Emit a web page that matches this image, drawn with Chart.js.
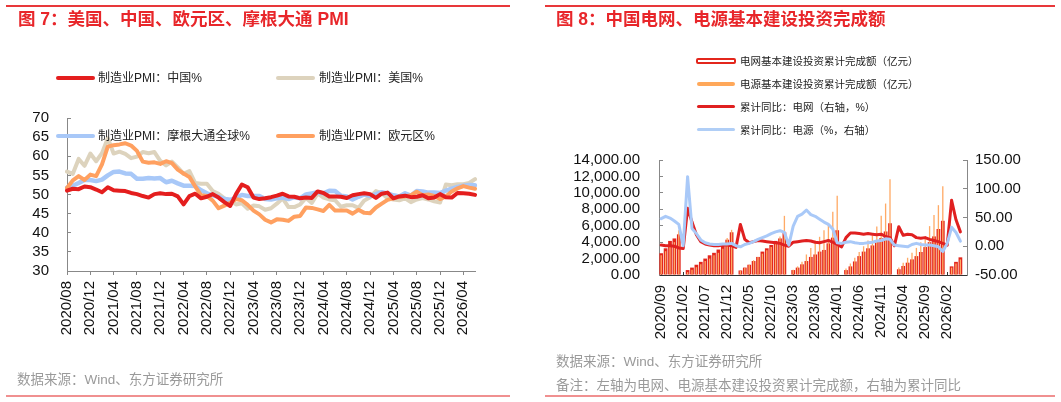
<!DOCTYPE html>
<html>
<head>
<meta charset="utf-8">
<script src="https://cdn.jsdelivr.net/npm/chart.js@4.4.1/dist/chart.umd.min.js"></script>
<style>
  body { margin: 0; background: #fff; font-family: "Liberation Sans", "Noto Sans CJK SC", sans-serif; }
  #wrap { position: relative; width: 1061px; height: 402px; overflow: hidden; }
  canvas { position: absolute; top: 0; }
  .t { position: absolute; white-space: nowrap; line-height: 1; }
  .title { color: #e8262a; font-size: 17.5px; font-weight: bold; }
  .src { color: #9a9a9a; font-size: 13.5px; }
  .lg { color: #222; font-size: 12px; }
  .lg2 { color: #222; font-size: 10.5px; }
  .rule { position: absolute; height: 1.5px; background: #e8383a; }
  .rule2 { position: absolute; height: 2px; background: #f09090; }
  .mk { position: absolute; border-radius: 2px; }
</style>
</head>
<body>
<div id="wrap">
  <canvas id="canvas" width="530" height="402" style="left:0"></canvas>
  <canvas id="canvas-bar" width="521" height="402" style="left:540px"></canvas>

  <div class="rule" style="left:6px;top:5px;width:504px"></div>
  <div class="rule" style="left:545px;top:5px;width:510px"></div>
  <div class="t title" style="left:18px;top:11px">图 7：美国、中国、欧元区、摩根大通 PMI</div>
  <div class="t title" style="left:556px;top:11px">图 8：中国电网、电源基本建设投资完成额</div>

  <div class="mk" style="left:56px;top:76px;width:39px;height:4px;background:#e41e1e"></div>
  <div class="t lg" style="left:98px;top:72px">制造业PMI：中国%</div>
  <div class="mk" style="left:276px;top:76px;width:39px;height:4px;background:#ddd3bd"></div>
  <div class="t lg" style="left:319px;top:72px">制造业PMI：美国%</div>
  <div class="mk" style="left:56px;top:134px;width:39px;height:4px;background:#a8c8f8"></div>
  <div class="t lg" style="left:98px;top:130px">制造业PMI：摩根大通全球%</div>
  <div class="mk" style="left:276px;top:134px;width:39px;height:4px;background:#ffa060"></div>
  <div class="t lg" style="left:319px;top:130px">制造业PMI：欧元区%</div>

  <div style="position:absolute;left:696px;top:58px;width:36px;height:2px;border:2px solid #e3261c;border-radius:2px;background:#fff"></div>
  <div class="t lg2" style="left:740px;top:56px">电网基本建设投资累计完成额（亿元）</div>
  <div class="mk" style="left:697px;top:82px;width:38px;height:4px;background:#ffa85a"></div>
  <div class="t lg2" style="left:740px;top:79px">电源基本建设投资累计完成额（亿元）</div>
  <div class="mk" style="left:697px;top:105px;width:38px;height:3px;background:#e02020"></div>
  <div class="t lg2" style="left:740px;top:102px">累计同比：电网（右轴，%）</div>
  <div class="mk" style="left:697px;top:128px;width:38px;height:3px;background:#b0cef6"></div>
  <div class="t lg2" style="left:740px;top:125px">累计同比：电源（%，右轴）</div>

  <div class="t src" style="left:17px;top:373px">数据来源：Wind、东方证券研究所</div>
  <div class="t src" style="left:556px;top:355px">数据来源：Wind、东方证券研究所</div>
  <div class="t src" style="left:556px;top:379px">备注：左轴为电网、电源基本建设投资累计完成额，右轴为累计同比</div>
  <div class="rule2" style="left:6px;top:395px;width:504px"></div>
  <div class="rule2" style="left:545px;top:395px;width:510px"></div>
</div>
<script>
// ---- 图7 data: 2020/08 - 2026/06
const pmiMonths = [
  '2020/08','2020/09','2020/10','2020/11','2020/12',
  '2021/01','2021/02','2021/03','2021/04','2021/05','2021/06','2021/07','2021/08','2021/09','2021/10','2021/11','2021/12',
  '2022/01','2022/02','2022/03','2022/04','2022/05','2022/06','2022/07','2022/08','2022/09','2022/10','2022/11','2022/12',
  '2023/01','2023/02','2023/03','2023/04','2023/05','2023/06','2023/07','2023/08','2023/09','2023/10','2023/11','2023/12',
  '2024/01','2024/02','2024/03','2024/04','2024/05','2024/06','2024/07','2024/08','2024/09','2024/10','2024/11','2024/12',
  '2025/01','2025/02','2025/03','2025/04','2025/05','2025/06','2025/07','2025/08','2025/09','2025/10','2025/11','2025/12',
  '2026/01','2026/02','2026/03','2026/04','2026/05','2026/06'
];
const pmiChina = [
  51.0, 51.5, 51.4, 52.1, 51.9,
  51.3, 50.6, 51.9, 51.1, 51.0, 50.9, 50.4, 50.1, 49.6, 49.2, 50.1, 50.3,
  50.1, 50.2, 49.5, 47.4, 49.6, 50.2, 49.0, 49.4, 50.1, 49.2, 48.0, 47.0,
  50.1, 52.6, 51.9, 49.2, 48.8, 49.0, 49.3, 49.7, 50.2, 49.5, 49.4, 49.0,
  49.2, 49.1, 50.8, 50.4, 49.5, 49.5, 49.4, 49.1, 49.8, 50.1, 50.3, 50.1,
  49.1, 50.2, 50.5, 49.0, 49.5, 49.7, 49.3, 49.4, 49.8, 49.0, 49.2, 50.1,
  49.3, 49.2, 50.4, 50.3, 50.2, 49.9
];
const pmiUS = [
  56.0, 55.4, 59.3, 57.5, 60.7,
  58.7, 60.8, 64.7, 60.7, 61.2, 60.6, 59.5, 59.9, 61.1, 60.8, 61.1, 58.8,
  57.6, 58.6, 57.1, 55.4, 56.1, 53.0, 52.8, 52.8, 50.9, 50.2, 49.0, 48.4,
  47.4, 47.7, 46.3, 47.1, 46.9, 46.0, 46.4, 47.6, 49.0, 46.7, 46.7, 47.4,
  49.1, 47.8, 50.3, 49.2, 48.7, 48.5, 46.8, 47.2, 47.2, 46.5, 48.4, 49.3,
  50.9, 50.3, 49.0, 48.7, 48.5, 49.0, 48.0, 48.7, 49.1, 48.7, 48.2, 47.9,
  52.6, 52.4, 52.7, 52.7, 53.0, 54.0
];
const pmiGlobal = [
  51.8, 52.3, 53.0, 53.8, 53.8,
  53.5, 53.9, 55.0, 55.9, 56.0, 55.5, 55.4, 54.1, 54.1, 54.3, 54.2, 54.3,
  53.2, 53.6, 52.9, 52.3, 52.3, 52.2, 51.1, 50.3, 49.8, 49.4, 48.8, 48.6,
  49.1, 49.9, 49.6, 49.6, 49.6, 48.8, 48.7, 49.0, 49.2, 48.8, 49.3, 49.0,
  50.0, 50.3, 50.6, 50.3, 51.0, 50.9, 49.7, 49.5, 48.7, 49.4, 50.0, 49.6,
  50.1, 50.6, 50.3, 49.8, 49.5, 50.3, 49.7, 50.9, 50.8, 50.5, 50.5, 50.4,
  51.0, 51.5, 52.0, 52.3, 52.5, 52.4
];
const pmiEuro = [
  51.7, 53.7, 54.8, 53.8, 55.2,
  54.8, 57.9, 62.5, 62.9, 63.1, 63.4, 62.8, 61.4, 58.6, 58.3, 58.4, 58.0,
  58.7, 58.2, 56.5, 55.5, 54.6, 52.1, 49.8, 49.6, 48.4, 46.4, 47.1, 47.8,
  48.8, 48.5, 47.3, 45.8, 44.8, 43.4, 42.7, 43.5, 43.4, 43.1, 44.2, 44.4,
  46.6, 46.5, 46.1, 45.7, 47.3, 45.8, 45.8, 45.8, 45.0, 46.0, 45.2, 45.1,
  46.6, 47.6, 48.6, 49.0, 49.4, 49.5, 49.8, 50.7, 49.8, 50.0, 49.6, 48.8,
  49.5, 50.8, 51.6, 52.2, 51.8, 51.5
];

// ---- 图8 data: 2020/09 - 2026/06
const invMonths = [
  '2020/09','2020/10','2020/11','2020/12',
  '2021/01','2021/02','2021/03','2021/04','2021/05','2021/06','2021/07','2021/08','2021/09','2021/10','2021/11','2021/12',
  '2022/01','2022/02','2022/03','2022/04','2022/05','2022/06','2022/07','2022/08','2022/09','2022/10','2022/11','2022/12',
  '2023/01','2023/02','2023/03','2023/04','2023/05','2023/06','2023/07','2023/08','2023/09','2023/10','2023/11','2023/12',
  '2024/01','2024/02','2024/03','2024/04','2024/05','2024/06','2024/07','2024/08','2024/09','2024/10','2024/11','2024/12',
  '2025/01','2025/02','2025/03','2025/04','2025/05','2025/06','2025/07','2025/08','2025/09','2025/10','2025/11','2025/12',
  '2026/01','2026/02','2026/03','2026/04','2026/05','2026/06'
];
const gridInv = [
  2650, 3250, 4150, 4450, 4950, null,
  600, 900, 1250, 1600, 2000, 2400, 2700, 3100, 3750, 4300, 5200, null,
  550, 900, 1250, 1700, 2200, 2850, 3250, 3650, 4150, 4450, 5200, null,
  600, 900, 1300, 1700, 2200, 2500, 2850, 3050, 3850, 4550, 5450, null,
  600, 1050, 1650, 2300, 2850, 3250, 3600, 4100, 4500, 5300, 6300, null,
  700, 1100, 1500, 1900, 2300, 2800, 3400, 4000, 4700, 5600, 6600, null,
  1050, 1600, 2150, null
];
const powerInv = [
  2400, 2900, 3500, 4000, 5450, null,
  350, 650, 950, 1300, 1700, 2000, 2400, 2700, 3200, 4500, 5500, null,
  500, 850, 1250, 1800, 2200, 2600, 3000, 3400, 3900, 4700, 7200, null,
  650, 1050, 1600, 2500, 3300, 4200, 4650, 5450, 6100, 7700, 9650, null,
  800, 1400, 2100, 2800, 3500, 4200, 4800, 5900, 7200, 8700, 11650, null,
  900, 1500, 2100, 2700, 3300, 4000, 4700, 5950, 7300, 8500, 10800, null,
  900, 1400, 1900, null
];
const gridYoy = [
  2, 1, 1, 0, -3, -4,
  66, 42, 20, 8, 4, 2, 1, 1, 2, 2, 1, -2,
  38, 12, 6, 8, 10, 9, 8, 7, 6, 5, 2, 0,
  7, 8, 9, 10, 9, 7, 6, 8, 10, 7, 3, -1,
  15, 23, 23, 22, 21, 22, 21, 20, 21, 17, 15, 1,
  34, 19, 21, 20, 15, 14, 15, 12, 10, 8, 5, 2,
  80, 46, 25, null
];
const powerYoy = [
  48, 52, 49, 44, 38, 1,
  121, 31, 22, 11, 6, 4, 3, 3, 4, 4, 5, 1,
  -1, 3, 5, 8, 12, 15, 18, 22, 25, 27, 24, 2,
  35, 52, 56, 63, 55, 52, 47, 42, 38, 30, 6, 5,
  7, 8, 6, 5, 5, 6, 7, 9, 10, 13, 12, 2,
  1, 0, -1, 3, 5, 3, 2, 2, 1, -1, -9, 5,
  33, 24, 9, null
];

const FONT = '"Liberation Sans", Arial, sans-serif';
Chart.defaults.font.family = FONT;
Chart.defaults.color = '#111';

function line(label, data, color, width, order, axis) {
  return {
    type: 'line', label: label, data: data, borderColor: color, backgroundColor: color,
    borderWidth: width, pointRadius: 0, tension: 0, spanGaps: true, order: order,
    borderCapStyle: 'round', borderJoinStyle: 'round', yAxisID: axis || 'y'
  };
}

const ctx = document.getElementById('canvas');
const ctx_bar = document.getElementById('canvas-bar');

new Chart(ctx, {
  type: 'line',
  data: {
    labels: pmiMonths,
    datasets: [
      line('制造业PMI：中国%', pmiChina, '#e41e1e', 4, 0),
      line('制造业PMI：美国%', pmiUS, '#ddd3bd', 4, 3),
      line('制造业PMI：摩根大通全球%', pmiGlobal, '#a8c8f8', 4.5, 2),
      line('制造业PMI：欧元区%', pmiEuro, '#ffa060', 4, 1)
    ]
  },
  options: {
    responsive: false,
    animation: false,
    devicePixelRatio: 1,
    layout: { padding: { left: 0, top: 118, right: 55, bottom: 51 } },
    plugins: { legend: { display: false }, tooltip: { enabled: false } },
    scales: {
      x: {
        offset: false,
        border: { color: '#888' },
        grid: { drawOnChartArea: false, tickLength: 4, color: '#888' },
        ticks: { autoSkip: false, minRotation: 90, maxRotation: 90, padding: 6, font: { size: 15 } },
        afterBuildTicks: function(axis) { axis.ticks = axis.ticks.filter(function(t, i) { return i % 4 === 0; }); },
        afterFit: function(s) { s.height = 80; }
      },
      y: {
        min: 30, max: 70,
        border: { color: '#888' },
        grid: { drawOnChartArea: false, tickLength: -4, color: '#888' },
        ticks: { stepSize: 5, autoSkip: false, padding: 22, font: { size: 15 } },
        afterFit: function(s) { s.width = 67; }
      }
    }
  }
});

new Chart(ctx_bar, {
  type: 'bar',
  data: {
    labels: invMonths,
    datasets: [
      { type: 'bar', label: '电网基本建设投资累计完成额（亿元）', data: gridInv, backgroundColor: '#e3261c',
        barPercentage: 0.85, categoryPercentage: 1, grouped: false, order: 3, yAxisID: 'y' },
      { type: 'bar', label: '电源基本建设投资累计完成额（亿元）', data: powerInv, backgroundColor: '#ffaa66',
        barPercentage: 0.3, categoryPercentage: 1, grouped: false, order: 2, yAxisID: 'y' },
      line('累计同比：电网（右轴，%）', gridYoy, '#e02020', 3, 1, 'y1'),
      line('累计同比：电源（%，右轴）', powerYoy, '#a9c9f8', 3, 0, 'y1')
    ]
  },
  options: {
    responsive: false,
    animation: false,
    devicePixelRatio: 1,
    layout: { padding: { left: 0, top: 160, right: 0, bottom: 57 } },
    plugins: { legend: { display: false }, tooltip: { enabled: false } },
    scales: {
      x: {
        offset: true,
        border: { color: '#333' },
        grid: { offset: false, drawOnChartArea: false, tickLength: -3, color: '#333' },
        ticks: { autoSkip: false, minRotation: 90, maxRotation: 90, padding: 13, font: { size: 15 } },
        afterBuildTicks: function(axis) { axis.ticks = axis.ticks.filter(function(t, i) { return i % 5 === 0; }); },
        afterFit: function(s) { s.height = 70; }
      },
      y: {
        position: 'left',
        min: 0, max: 14000,
        border: { color: '#888' },
        grid: { drawOnChartArea: false, tickLength: -4, color: '#888' },
        ticks: { stepSize: 2000, autoSkip: false, padding: 23, font: { size: 15 },
          callback: function(v) { return v.toLocaleString('en-US', { minimumFractionDigits: 2, maximumFractionDigits: 2 }); } },
        afterFit: function(s) { s.width = 119; }
      },
      y1: {
        position: 'right',
        min: -50, max: 150,
        border: { color: '#888' },
        grid: { drawOnChartArea: false, tickLength: -4, color: '#888' },
        ticks: { stepSize: 50, autoSkip: false, padding: 12, font: { size: 15 },
          callback: function(v) { return v.toFixed(2); } },
        afterFit: function(s) { s.width = 94; }
      }
    }
  }
});
</script>
</body>
</html>
